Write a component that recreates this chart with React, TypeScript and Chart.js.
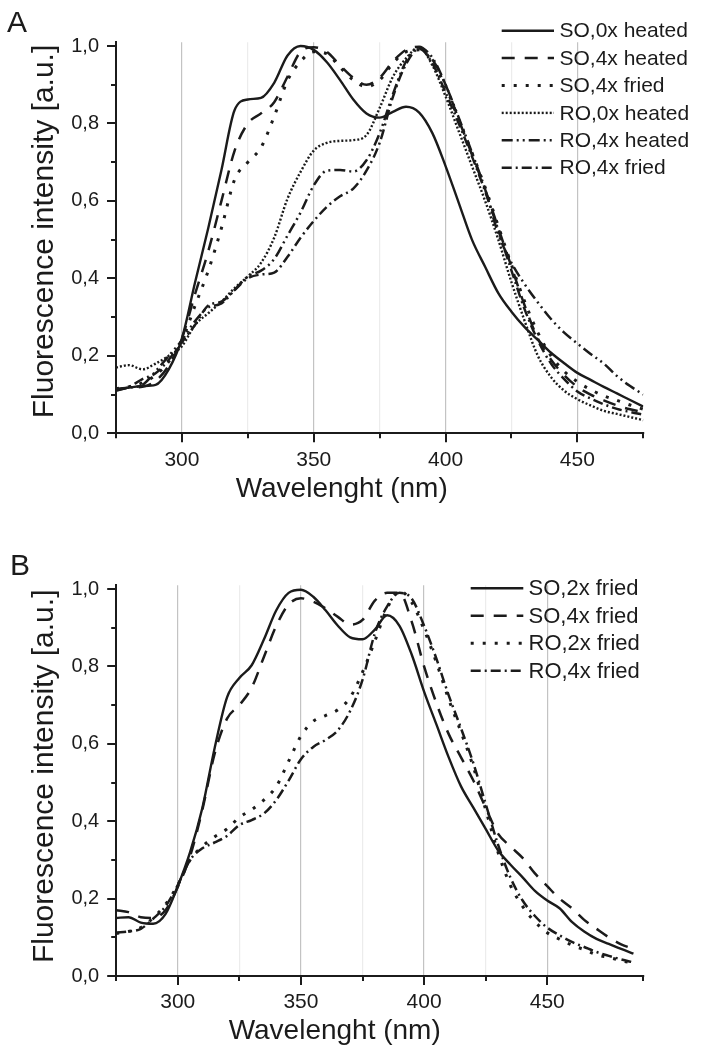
import React, { useEffect, useRef } from 'react';
import { Chart, registerables } from 'chart.js';

Chart.register(...registerables);

const FONT = "'Liberation Sans', Arial, Helvetica, sans-serif";
const INK = '#1b1b1b';

// ---------- Panel A data ----------
const wavelengthsA = [275, 280, 285, 290, 295, 300, 305, 310, 315, 320, 325, 330, 335, 340, 345, 350, 355, 360, 365, 370, 375, 380, 385, 390, 395, 400, 405, 410, 415, 420, 425, 430, 435, 440, 445, 450, 455, 460, 465, 470, 475];
const so0xHeated = [0.115, 0.118, 0.122, 0.125, 0.165, 0.245, 0.39, 0.53, 0.68, 0.835, 0.862, 0.866, 0.905, 0.975, 1.0, 0.99, 0.958, 0.912, 0.862, 0.826, 0.815, 0.83, 0.843, 0.828, 0.775, 0.69, 0.595, 0.5, 0.43, 0.362, 0.314, 0.274, 0.241, 0.208, 0.181, 0.156, 0.138, 0.12, 0.103, 0.086, 0.069];
const so4xHeated = [0.112, 0.118, 0.12, 0.135, 0.175, 0.245, 0.36, 0.47, 0.6, 0.73, 0.8, 0.826, 0.855, 0.92, 0.985, 0.997, 0.985, 0.95, 0.918, 0.9, 0.918, 0.96, 0.99, 0.998, 0.965, 0.9, 0.81, 0.72, 0.63, 0.53, 0.43, 0.33, 0.245, 0.19, 0.15, 0.12, 0.1, 0.085, 0.072, 0.062, 0.055];
const so4xFriedA = [0.115, 0.12, 0.13, 0.15, 0.185, 0.24, 0.33, 0.42, 0.53, 0.655, 0.7, 0.738, 0.818, 0.91, 0.96, 0.985, 0.98, 0.945, 0.912, 0.895, 0.912, 0.955, 0.985, 0.99, 0.96, 0.895, 0.81, 0.725, 0.635, 0.535, 0.435, 0.34, 0.26, 0.2, 0.16, 0.133, 0.113, 0.097, 0.085, 0.073, 0.062];
const ro0xHeated = [0.17, 0.176, 0.165, 0.18, 0.2, 0.225, 0.28, 0.31, 0.34, 0.375, 0.405, 0.44, 0.505, 0.605, 0.675, 0.73, 0.75, 0.755, 0.757, 0.77, 0.84, 0.92, 0.968, 0.997, 0.95, 0.87, 0.78, 0.69, 0.6, 0.5, 0.39, 0.29, 0.2, 0.145, 0.11, 0.088, 0.072, 0.058, 0.05, 0.042, 0.034];
const ro4xHeated = [0.112, 0.118, 0.125, 0.16, 0.2, 0.24, 0.29, 0.325, 0.335, 0.37, 0.405, 0.42, 0.45, 0.51, 0.57, 0.64, 0.678, 0.68, 0.676, 0.705, 0.775, 0.875, 0.96, 0.995, 0.97, 0.9, 0.815, 0.725, 0.63, 0.515, 0.44, 0.385, 0.338, 0.295, 0.26, 0.232, 0.205, 0.18, 0.148, 0.122, 0.1];
const ro4xFriedA = [0.11, 0.12, 0.14, 0.155, 0.19, 0.235, 0.28, 0.33, 0.34, 0.37, 0.4, 0.41, 0.415, 0.455, 0.505, 0.548, 0.585, 0.612, 0.632, 0.678, 0.75, 0.868, 0.953, 0.993, 0.955, 0.88, 0.8, 0.715, 0.625, 0.525, 0.42, 0.32, 0.24, 0.18, 0.14, 0.108, 0.09, 0.075, 0.063, 0.055, 0.048];

// ---------- Panel B data ----------
const wavelengthsB = [275, 280, 285, 290, 295, 300, 305, 310, 315, 320, 325, 330, 335, 340, 345, 350, 355, 360, 365, 370, 375, 380, 385, 390, 395, 400, 405, 410, 415, 420, 425, 430, 435, 440, 445, 450, 455, 460, 465, 470, 475, 480, 485];
const so2xFried = [0.15, 0.152, 0.138, 0.135, 0.16, 0.232, 0.32, 0.435, 0.59, 0.72, 0.77, 0.803, 0.87, 0.945, 0.99, 0.998, 0.98, 0.945, 0.905, 0.875, 0.87, 0.895, 0.932, 0.905, 0.83, 0.735, 0.65, 0.565, 0.49, 0.435, 0.38, 0.325, 0.288, 0.255, 0.22, 0.195, 0.175, 0.14, 0.115, 0.096, 0.083, 0.07, 0.058];
const so4xFriedB = [0.17, 0.165, 0.152, 0.15, 0.17, 0.23, 0.31, 0.43, 0.575, 0.665, 0.7, 0.745, 0.825, 0.905, 0.96, 0.976, 0.967, 0.95, 0.928, 0.908, 0.92, 0.97, 0.99, 0.99, 0.915, 0.8, 0.705, 0.625, 0.565, 0.505, 0.435, 0.368, 0.335, 0.305, 0.265, 0.232, 0.2, 0.175, 0.145, 0.122, 0.1, 0.082, 0.07];
const ro2xFried = [0.11, 0.115, 0.125, 0.15, 0.185, 0.235, 0.3, 0.335, 0.36, 0.38, 0.41, 0.43, 0.455, 0.49, 0.555, 0.62, 0.658, 0.673, 0.688, 0.72, 0.785, 0.865, 0.95, 0.995, 0.965, 0.895, 0.81, 0.715, 0.63, 0.54, 0.43, 0.32, 0.235, 0.18, 0.14, 0.112, 0.095, 0.08, 0.068, 0.055, 0.048, 0.04, 0.032];
const ro4xFriedB = [0.112, 0.115, 0.122, 0.148, 0.18, 0.235, 0.3, 0.33, 0.345, 0.362, 0.39, 0.403, 0.42, 0.455, 0.505, 0.56, 0.592, 0.61, 0.635, 0.685, 0.765, 0.885, 0.955, 0.99, 0.975, 0.905, 0.82, 0.725, 0.64, 0.55, 0.445, 0.34, 0.255, 0.195, 0.155, 0.125, 0.105, 0.088, 0.075, 0.062, 0.052, 0.043, 0.035];

// ---------- labels ----------
const labelsA = ['SO,0x heated', 'SO,4x heated', 'SO,4x fried', 'RO,0x heated', 'RO,4x heated', 'RO,4x fried'];
const labelsB = ['SO,2x fried', 'SO,4x fried', 'RO,2x fried', 'RO,4x fried'];
const xLabelTicks = [300, 350, 400, 450];
const yTitle = 'Fluorescence intensity [a.u.]';
const xTitle = 'Wavelenght (nm)';

// line styles
const SOLID: number[] = [];
const DASH = [13, 10];
const SPARSE_DOT = [3, 9];
const FINE_DOT = [2, 2];
const DASH_DOT_DOT = [11, 4, 2, 4, 2, 4];
const DASH_DOT = [10, 4, 2, 4];

type Style = { dash: number[]; width: number };
const stylesA: Style[] = [
  { dash: SOLID, width: 2.4 },
  { dash: DASH, width: 2.5 },
  { dash: SPARSE_DOT, width: 3 },
  { dash: FINE_DOT, width: 2.4 },
  { dash: DASH_DOT_DOT, width: 2.5 },
  { dash: DASH_DOT, width: 2.5 },
];
const stylesB: Style[] = [
  { dash: SOLID, width: 2.4 },
  { dash: DASH, width: 2.5 },
  { dash: SPARSE_DOT, width: 3 },
  { dash: DASH_DOT, width: 2.5 },
];

type PanelCfg = {
  letter: string; letterX: number; letterY: number;
  yTitleX: number; yTitleY: number; yTitleSize: number;
  xTitleX: number; xTitleY: number; xTitleSize: number;
  legX0: number; legX1: number; legTextX: number; legY0: number; legStep: number; legSize: number;
  labels: string[]; styles: Style[];
};

function makeDecor(cfg: PanelCfg) {
  return {
    id: 'decor' + cfg.letter,
    afterDraw(chart: any) {
      const ctx: CanvasRenderingContext2D = chart.ctx;
      const xs = chart.scales.x;
      const ys = chart.scales.y;
      const { bottom, left } = chart.chartArea;
      ctx.save();
      // tick marks
      ctx.strokeStyle = INK;
      ctx.lineWidth = 2;
      ctx.setLineDash([]);
      xs.ticks.forEach((t: any) => {
        const px = Math.round(xs.getPixelForValue(t.value));
        const len = t.value % 50 === 0 ? 9 : 5;
        ctx.beginPath();
        ctx.moveTo(px, bottom);
        ctx.lineTo(px, bottom + len);
        ctx.stroke();
      });
      ys.ticks.forEach((t: any) => {
        const py = Math.round(ys.getPixelForValue(t.value));
        const major = Math.round(t.value * 10) % 2 === 0;
        const len = major ? 9 : 5;
        ctx.beginPath();
        ctx.moveTo(left, py);
        ctx.lineTo(left - len, py);
        ctx.stroke();
      });
      // panel letter
      ctx.fillStyle = INK;
      ctx.font = `30px ${FONT}`;
      ctx.textAlign = 'left';
      ctx.textBaseline = 'alphabetic';
      ctx.fillText(cfg.letter, cfg.letterX, cfg.letterY);
      // axis titles
      ctx.font = `${cfg.xTitleSize}px ${FONT}`;
      ctx.textAlign = 'center';
      ctx.fillText(xTitle, cfg.xTitleX, cfg.xTitleY);
      ctx.save();
      ctx.translate(cfg.yTitleX, cfg.yTitleY);
      ctx.rotate(-Math.PI / 2);
      ctx.font = `${cfg.yTitleSize}px ${FONT}`;
      ctx.fillText(yTitle, 0, 0);
      ctx.restore();
      // legend
      ctx.font = `${cfg.legSize}px ${FONT}`;
      ctx.textAlign = 'left';
      ctx.textBaseline = 'middle';
      cfg.labels.forEach((lab, i) => {
        const y = cfg.legY0 + i * cfg.legStep;
        const st = cfg.styles[i];
        ctx.strokeStyle = INK;
        ctx.lineWidth = st.width;
        ctx.setLineDash(st.dash);
        ctx.beginPath();
        ctx.moveTo(cfg.legX0, y);
        ctx.lineTo(cfg.legX1, y);
        ctx.stroke();
        ctx.setLineDash([]);
        ctx.fillText(lab, cfg.legTextX, y + 1);
      });
      ctx.restore();
    },
  };
}

function buildChart(
  canvas: HTMLCanvasElement,
  xs: number[],
  series: number[][],
  styles: Style[],
  labels: string[],
  xMax: number,
  topPad: number,
  xHeight: number,
  yWidth: number,
  cfg: PanelCfg,
) {
  const datasets = series.map((vals, i) => ({
    label: labels[i],
    data: vals.map((v, j) => ({ x: xs[j], y: v })),
    borderColor: INK,
    borderWidth: styles[i].width,
    borderDash: styles[i].dash,
    borderCapStyle: 'butt' as const,
    pointRadius: 0,
    fill: false,
    cubicInterpolationMode: 'monotone' as const,
  }));
  return new Chart(canvas, {
    type: 'line',
    data: { datasets },
    plugins: [makeDecor(cfg)],
    options: {
      responsive: false,
      animation: false,
      devicePixelRatio: 1,
      layout: { padding: { left: 0, right: 703 - 643.3, top: topPad, bottom: 0 } },
      plugins: { legend: { display: false }, tooltip: { enabled: false } },
      scales: {
        x: {
          type: 'linear',
          min: 275,
          max: xMax,
          afterFit: (s: any) => { s.height = xHeight; },
          ticks: {
            stepSize: 25,
            autoSkip: false,
            maxRotation: 0,
            padding: 14,
            color: INK,
            font: { family: FONT, size: 21 },
            callback: (v: any) => (xLabelTicks.includes(Number(v)) ? String(v) : ''),
          },
          grid: {
            drawTicks: false,
            lineWidth: 1.2,
            color: (c: any) => {
              const v = c.tick ? c.tick.value : NaN;
              if (v === 275 || v === xMax || isNaN(v)) return 'rgba(0,0,0,0)';
              return v % 50 === 0 ? '#c3c3c3' : '#ececec';
            },
          },
          border: { display: true, color: INK, width: 2 },
        },
        y: {
          type: 'linear',
          min: 0,
          max: 1.01,
          afterFit: (s: any) => { s.width = yWidth; },
          ticks: {
            stepSize: 0.1,
            autoSkip: false,
            padding: 17,
            color: INK,
            font: { family: FONT, size: 20 },
            includeBounds: false,
            callback: (v: any) => {
              const n = Math.round(Number(v) * 10);
              return n % 2 === 0 ? (n / 10).toFixed(1).replace('.', ',') : '';
            },
          },
          grid: { display: true, drawOnChartArea: false, drawTicks: false },
          border: { display: true, color: INK, width: 2 },
        },
      },
    } as any,
  });
}

const cfgA: PanelCfg = {
  letter: 'A', letterX: 7, letterY: 32,
  yTitleX: 53, yTitleY: 231.5, yTitleSize: 30,
  xTitleX: 341.7, xTitleY: 496.7, xTitleSize: 28,
  legX0: 501.7, legX1: 554, legTextX: 559.5, legY0: 30.7, legStep: 27.4, legSize: 21,
  labels: labelsA, styles: stylesA,
};
const cfgB: PanelCfg = {
  letter: 'B', letterX: 10, letterY: 55,
  yTitleX: 53, yTitleY: 256.3, yTitleSize: 30,
  xTitleX: 334.7, xTitleY: 519.3, xTitleSize: 28,
  legX0: 470.7, legX1: 523.3, legTextX: 528.5, legY0: 68.3, legStep: 27.5, legSize: 22,
  labels: labelsB, styles: stylesB,
};

export default function App() {
  const refA = useRef<HTMLCanvasElement>(null);
  const refB = useRef<HTMLCanvasElement>(null);
  useEffect(() => {
    const a = buildChart(
      refA.current!, wavelengthsA,
      [so0xHeated, so4xHeated, so4xFriedA, ro0xHeated, ro4xHeated, ro4xFriedA],
      stylesA, labelsA, 475, 433.3 - 1.01 * 387.3, 520 - 433.3, 116, cfgA,
    );
    const b = buildChart(
      refB.current!, wavelengthsB,
      [so2xFried, so4xFriedB, ro2xFried, ro4xFriedB],
      stylesB, labelsB, 489, 456 - 1.01 * 387, 526 - 456, 116.2, cfgB,
    );
    return () => { a.destroy(); b.destroy(); };
  }, []);
  return (
    <div style={{ position: 'absolute', left: 0, top: 0, width: 703, height: 1046, background: '#fff' }}>
      <canvas ref={refA} width={703} height={520} style={{ position: 'absolute', left: 0, top: 0, width: 703, height: 520 }} />
      <canvas ref={refB} width={703} height={526} style={{ position: 'absolute', left: 0, top: 520, width: 703, height: 526 }} />
    </div>
  );
}
